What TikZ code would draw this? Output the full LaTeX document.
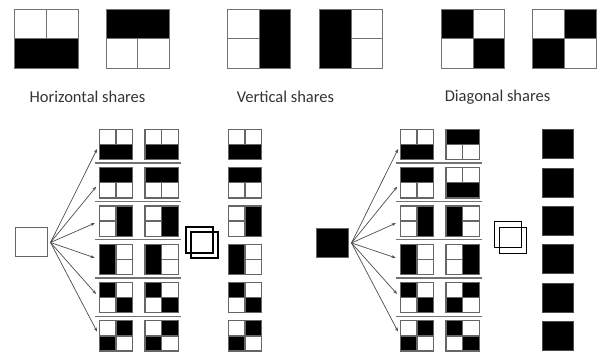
\documentclass[tikz,border=0pt]{standalone}
\usepackage{fontspec}
\setmainfont{Carlito}
\usetikzlibrary{arrows.meta}

% 2x2 share box: name, centre, width, height, colours TL TR BL BR
% cells are filled first; only white cells get an outline, so
% neighbouring black cells merge into one solid area
\newcommand\shbox[8]{%
  \node[inner sep=0pt, minimum width=#3, minimum height=#4] (#1) at (#2) {};
  \fill[#5] (#1.north west) rectangle (#1.center);
  \fill[#6] (#1.north) rectangle (#1.east);
  \fill[#7] (#1.west) rectangle (#1.south);
  \fill[#8] (#1.center) rectangle (#1.south east);
  \path[cell #5] (#1.north west) rectangle (#1.center);
  \path[cell #6] (#1.north) rectangle (#1.east);
  \path[cell #7] (#1.west) rectangle (#1.south);
  \path[cell #8] (#1.center) rectangle (#1.south east);
  \draw (#1.north west) rectangle (#1.south east);
}

\tikzset{
  cell white/.style={draw},
  cell black/.style={},
  bigshare/.style={draw=black!55, line width=1pt},
  smallshare/.style={draw=black!60, line width=1.3pt},
  sep/.style={draw=black!55, line width=1.4pt},
  fan/.style={draw=black!70, line width=0.7pt, -{Stealth[length=4pt,width=3pt]}, shorten >=5pt},
  stack/.style={draw=black, line width=1.6pt, inner sep=0pt, minimum width=27pt, minimum height=26pt},
  secret/.style={draw=black!60, line width=1pt, inner sep=0pt, minimum width=32pt, minimum height=29pt},
  caption/.style={font=\fontsize{16.5}{18}\selectfont, text=black!80}
}

\begin{document}
\begin{tikzpicture}[x=1pt, y=-1pt]
\useasboundingbox (0,0) rectangle (597,352);

% ---- top row: the six share patterns ----
\begin{scope}[bigshare]
\shbox{t1}{46.5,39}{63}{58}{white}{white}{black}{black}
\shbox{t2}{137.5,39}{62}{58}{black}{black}{white}{white}
\shbox{t3}{259,39}{62}{58}{white}{black}{white}{black}
\shbox{t4}{351,39}{62}{58}{black}{white}{black}{white}
\shbox{t5}{473,39}{62}{58}{black}{white}{white}{black}
\shbox{t6}{564.5,39}{63}{58}{white}{black}{black}{white}
\end{scope}

\node[caption] (capH) at (87.5,97) {Horizontal shares};
\node[caption] (capV) at (285.5,97) {Vertical shares};
\node[caption] (capD) at (497.5,97) {Diagonal shares};

% ---- left: white secret pixel ----
\node[secret, fill=white] (wsec) at (31,242.5) {};
\coordinate (wfan) at ([xshift=3pt]wsec.east);

\begin{scope}[smallshare]
% rows: share 1, share 2, stacked result
\shbox{a1}{116,144.5}{32}{29}{white}{white}{black}{black}
\shbox{b1}{161.5,144.5}{32}{29}{white}{white}{black}{black}
\shbox{c1}{245,144.5}{32}{29}{white}{white}{black}{black}
\shbox{a2}{116,182.8}{32}{29}{black}{black}{white}{white}
\shbox{b2}{161.5,182.8}{32}{29}{black}{black}{white}{white}
\shbox{c2}{245,182.8}{32}{29}{black}{black}{white}{white}
\shbox{a3}{116,221.1}{32}{29}{white}{black}{white}{black}
\shbox{b3}{161.5,221.1}{32}{29}{white}{black}{white}{black}
\shbox{c3}{245,221.1}{32}{29}{white}{black}{white}{black}
\shbox{a4}{116,259.4}{32}{29}{black}{white}{black}{white}
\shbox{b4}{161.5,259.4}{32}{29}{black}{white}{black}{white}
\shbox{c4}{245,259.4}{32}{29}{black}{white}{black}{white}
\shbox{a5}{116,297.7}{32}{29}{black}{white}{white}{black}
\shbox{b5}{161.5,297.7}{32}{29}{black}{white}{white}{black}
\shbox{c5}{245,297.7}{32}{29}{black}{white}{white}{black}
\shbox{a6}{116,336}{32}{29}{white}{black}{black}{white}
\shbox{b6}{161.5,336}{32}{29}{white}{black}{black}{white}
\shbox{c6}{245,336}{32}{29}{white}{black}{black}{white}
\end{scope}

\foreach \r in {1,...,6} { \draw[fan] (wfan) -- (a\r.west); }
\foreach \y in {163,201.3,239.6,278,316.3} { \draw[sep] (95,\y) -- (181,\y); }

\node[stack] (ws1) at (199.5,240) {};
\node[stack] (ws2) at (204.5,245) {};

% ---- right: black secret pixel ----
\node[secret, fill=black] (bsec) at (332,243) {};
\coordinate (bfan) at ([xshift=3pt]bsec.east);

\begin{scope}[smallshare]
\shbox{d1}{417,144.5}{32}{29}{white}{white}{black}{black}
\shbox{e1}{462.5,144.5}{32}{29}{black}{black}{white}{white}
\shbox{d2}{417,182.8}{32}{29}{black}{black}{white}{white}
\shbox{e2}{462.5,182.8}{32}{29}{white}{white}{black}{black}
\shbox{d3}{417,221.1}{32}{29}{white}{black}{white}{black}
\shbox{e3}{462.5,221.1}{32}{29}{black}{white}{black}{white}
\shbox{d4}{417,259.4}{32}{29}{black}{white}{black}{white}
\shbox{e4}{462.5,259.4}{32}{29}{white}{black}{white}{black}
\shbox{d5}{417,297.7}{32}{29}{black}{white}{white}{black}
\shbox{e5}{462.5,297.7}{32}{29}{white}{black}{black}{white}
\shbox{d6}{417,336}{32}{29}{white}{black}{black}{white}
\shbox{e6}{462.5,336}{32}{29}{black}{white}{white}{black}
\end{scope}
\foreach \r/\y in {1/144.5,2/182.8,3/221.1,4/259.4,5/297.7,6/336} {
  \node[secret, draw=black!70, fill=black, minimum width=31pt] (f\r) at (557.5,\y) {};
}

\foreach \r in {1,...,6} { \draw[fan] (bfan) -- (d\r.west); }
\foreach \y in {163,201.3,239.6,278,316.3} { \draw[sep] (396,\y) -- (482,\y); }

\node[stack] (bs1) at (508,234.5) {};
\node[stack] (bs2) at (513,240.5) {};
\end{tikzpicture}
\end{document}
